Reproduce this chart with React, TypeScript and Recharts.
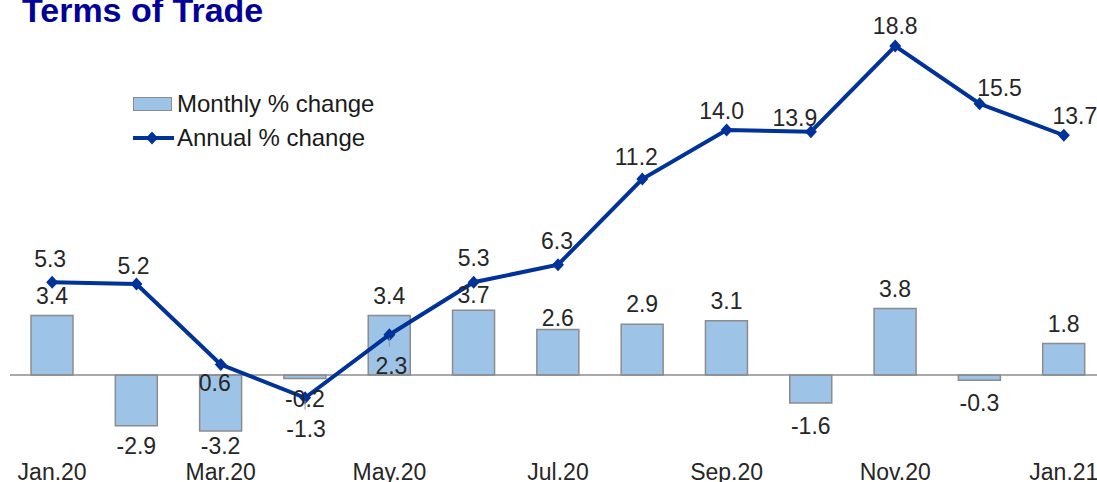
import React from 'react';
import { ComposedChart, Bar, Line, XAxis, YAxis, ReferenceLine, LabelList } from 'recharts';

const months = ['Jan.20', 'Feb.20', 'Mar.20', 'Apr.20', 'May.20', 'Jun.20', 'Jul.20', 'Aug.20', 'Sep.20', 'Oct.20', 'Nov.20', 'Dec.20', 'Jan.21'];
const monthlyChange = [3.4, -2.9, -3.2, -0.2, 3.4, 3.7, 2.6, 2.9, 3.1, -1.6, 3.8, -0.3, 1.8];
const annualChange = [5.3, 5.2, 0.6, -1.3, 2.3, 5.3, 6.3, 11.2, 14.0, 13.9, 18.8, 15.5, 13.7];
const seriesNames = ['Monthly % change', 'Annual % change'];

const data = months.map((m, i) => ({ month: m, monthly: monthlyChange[i], annual: annualChange[i] }));

const FONT = '"Liberation Sans", Arial, sans-serif';
const TEXT = '#262626';
const BAR_FILL = '#9DC3E6';
const BAR_STROKE = '#8C8C8C';
const LINE = '#003399';

// label nudges (style only): [dx, dy] from the data point
const lineLabelNudge: Record<number, [number, number]> = {
  0: [-2, -23], 1: [-3, -18], 2: [-6, 18], 3: [1, 31], 4: [2, 31], 5: [0, -24], 6: [-1, -24],
  7: [-6, -22], 8: [-5, -19], 9: [-16, -14], 10: [0, -20], 11: [20, -16], 12: [11, -19],
};
const leaderIdx = new Set([3, 4]);
const barLabelNudge: Record<number, number> = { 2: 15, 5: 15, 6: 12, 9: 23, 11: 23 };

const Diamond = (props: any) => {
  const { cx, cy } = props;
  if (cx == null || cy == null) return null;
  return <polygon points={`${cx},${cy - 6.5} ${cx + 6},${cy} ${cx},${cy + 6.5} ${cx - 6},${cy}`} fill={LINE} />;
};

const LineLabel = (props: any) => {
  const { x, y, value, index } = props;
  const [dx, dy] = lineLabelNudge[index] || [0, -20];
  return (
    <g>
      {leaderIdx.has(index) && <line x1={x} y1={y + 3} x2={x} y2={y + 12} stroke="#999" strokeWidth={1} />}
      <text x={x + dx} y={y + dy} textAnchor="middle" dominantBaseline="central" fontFamily={FONT} fontSize={23} fill={TEXT}>
        {Number(value).toFixed(1)}
      </text>
    </g>
  );
};

const BarLabel = (props: any) => {
  const { x, y, width, height, value, index } = props;
  const top = Math.min(y, y + height);
  const bottom = Math.max(y, y + height);
  const off = barLabelNudge[index] ?? 20;
  const ly = value >= 0 ? top - off : bottom + off;
  return (
    <text x={x + width / 2} y={ly} textAnchor="middle" dominantBaseline="central" fontFamily={FONT} fontSize={23} fill={TEXT}>
      {Number(value).toFixed(1)}
    </text>
  );
};

const LegendBox = () => (
  <div style={{ position: 'absolute', left: 133, top: 87, fontFamily: FONT, fontSize: 24, color: '#1a1a1a', lineHeight: '34px', zIndex: 2 }}>
    <div style={{ display: 'flex', alignItems: 'center', height: 34 }}>
      <svg width={44} height={34} style={{ display: 'block' }}>
        <rect x={0.5} y={10.5} width={38} height={13} fill={BAR_FILL} stroke={BAR_STROKE} strokeWidth={1} />
      </svg>
      <span>{seriesNames[0]}</span>
    </div>
    <div style={{ display: 'flex', alignItems: 'center', height: 34 }}>
      <svg width={44} height={34} style={{ display: 'block' }}>
        <line x1={0} y1={17} x2={41} y2={17} stroke={LINE} strokeWidth={4} />
        <polygon points="19,10.5 25,17 19,23.5 13,17" fill={LINE} />
      </svg>
      <span>{seriesNames[1]}</span>
    </div>
  </div>
);

export default function App() {
  return (
    <div style={{ position: 'absolute', left: 0, top: 0, width: 1097, height: 482, overflow: 'hidden', background: '#fff' }}>
      <svg width={400} height={40} style={{ position: 'absolute', left: 0, top: 0, zIndex: 2 }}>
        <text x={22} y={22} fontFamily={FONT} fontWeight="bold" fontSize={34} fill="#000099">Terms of Trade</text>
      </svg>
      <LegendBox />
      <ComposedChart
        width={1106}
        height={493}
        data={data}
        margin={{ top: 7.5, right: 0, left: 10, bottom: 0.5 }}
        barSize={42}
      >
        <XAxis
          dataKey="month"
          axisLine={false}
          tickLine={false}
          tickSize={0}
          tickMargin={1}
          height={30}
          interval={1}
          tick={{ fontFamily: FONT, fontSize: 23, fill: TEXT }}
        />
        <YAxis hide domain={[-5, 21]} allowDataOverflow />
        <Bar dataKey="monthly" fill={BAR_FILL} stroke={BAR_STROKE} strokeWidth={1.5} isAnimationActive={false}>
          <LabelList dataKey="monthly" content={<BarLabel />} />
        </Bar>
        <ReferenceLine y={0} stroke="#8C8C8C" strokeWidth={1.5} />
        <Line
          dataKey="annual"
          stroke={LINE}
          strokeWidth={4}
          dot={<Diamond />}
          activeDot={false}
          isAnimationActive={false}
        >
          <LabelList dataKey="annual" content={<LineLabel />} />
        </Line>
      </ComposedChart>
    </div>
  );
}
